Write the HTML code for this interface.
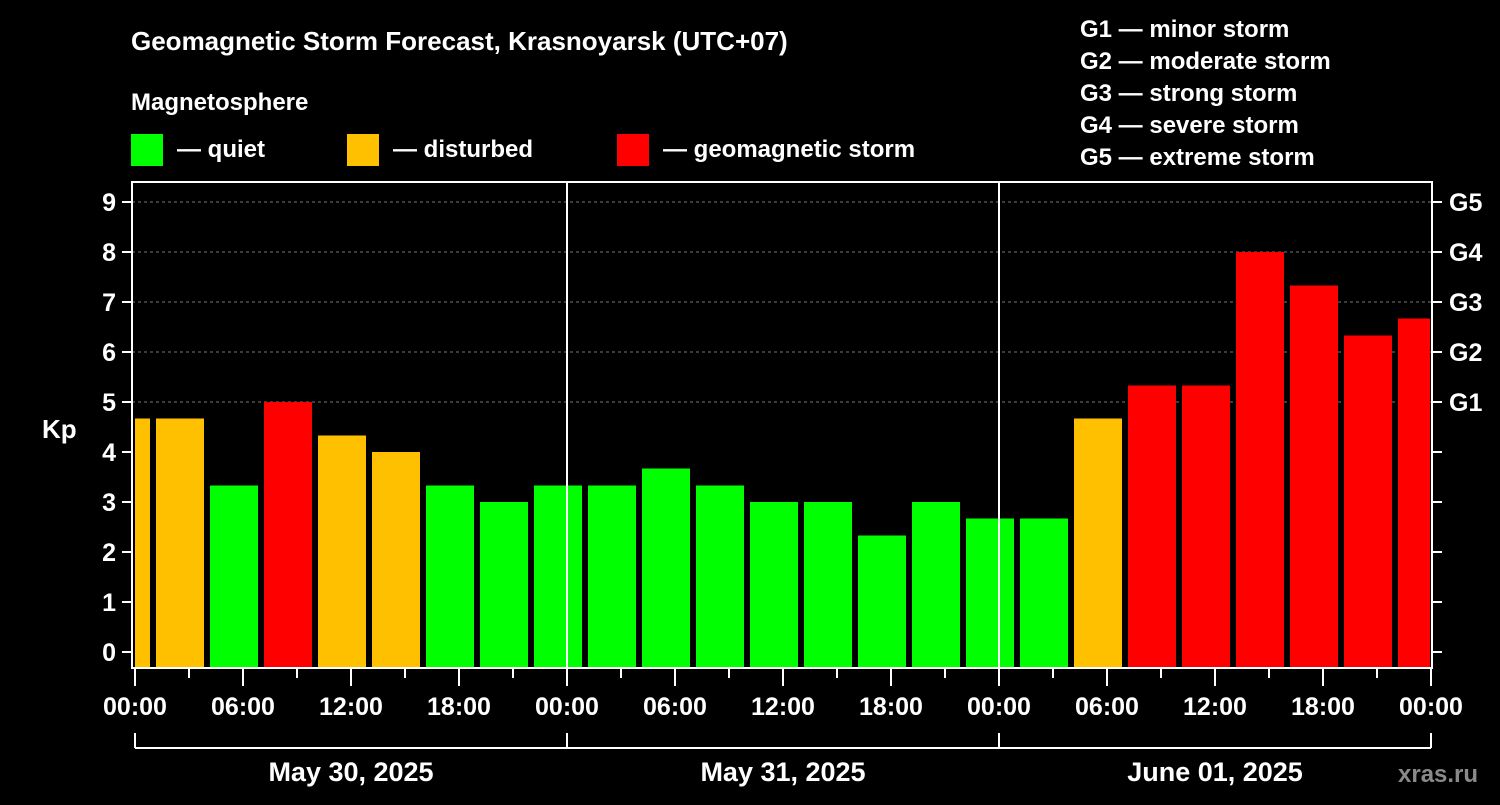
<!DOCTYPE html>
<html><head><meta charset="utf-8"><style>
body{margin:0;background:#000;width:1500px;height:800px;overflow:hidden}
svg text{font-family:"Liberation Sans",sans-serif;font-weight:bold;fill:#fff}
</style></head><body>
<svg id="c" width="1500" height="800">
<text x="131" y="50" font-size="26">Geomagnetic Storm Forecast, Krasnoyarsk (UTC+07)</text>
<text x="131" y="110" font-size="24">Magnetosphere</text>
<rect x="131" y="134" width="32" height="32" fill="#00ff00"/>
<text x="177" y="157" font-size="24">— quiet</text>
<rect x="347" y="134" width="32" height="32" fill="#ffc000"/>
<text x="393" y="157" font-size="24">— disturbed</text>
<rect x="617" y="134" width="32" height="32" fill="#ff0000"/>
<text x="663" y="157" font-size="24">— geomagnetic storm</text>
<g font-size="24">
<text x="1080" y="37">G1 — minor storm</text>
<text x="1080" y="69">G2 — moderate storm</text>
<text x="1080" y="101">G3 — strong storm</text>
<text x="1080" y="133">G4 — severe storm</text>
<text x="1080" y="165">G5 — extreme storm</text>
</g>
<text x="42" y="438" font-size="26">Kp</text>
<text x="1398" y="782" font-size="24" fill="#888" style="fill:#8a8a8a">xras.ru</text>
<g id="plot"></g>
</svg>
<script>
const kpValues=[4.67,4.67,3.33,5,4.33,4,3.33,3,3.33,3.33,3.67,3.33,3,3,2.33,3,2.67,2.67,4.67,5.33,5.33,8,7.33,6.33,6.67];
const barHours=[-0.5,2.5,5.5,8.5,11.5,14.5,17.5,20.5,23.5,26.5,29.5,32.5,35.5,38.5,41.5,44.5,47.5,50.5,53.5,56.5,59.5,62.5,65.5,68.5,71.5];
const yTicks=[0,1,2,3,4,5,6,7,8,9];
const gLabels=["G1","G2","G3","G4","G5"];
const xTickLabels=["00:00","06:00","12:00","18:00","00:00","06:00","12:00","18:00","00:00","06:00","12:00","18:00","00:00"];
const dayLabels=["May 30, 2025","May 31, 2025","June 01, 2025"];
const L=132,R=1432,T=182,B=668,X0=135,PXH=18;
const x=h=>X0+h*PXH, y=v=>652-v*50;
const NS="http://www.w3.org/2000/svg", g=document.getElementById('plot');
function mk(t,a,txt){const e=document.createElementNS(NS,t);for(const k in a)e.setAttribute(k,a[k]);if(txt!=null)e.textContent=txt;g.appendChild(e);return e;}
const cp=document.createElementNS(NS,'clipPath');cp.id='pc';const cr=document.createElementNS(NS,'rect');
cr.setAttribute('x',L+3);cr.setAttribute('y',T);cr.setAttribute('width',R-L-5);cr.setAttribute('height',B-T);cp.appendChild(cr);g.appendChild(cp);
for(let v=5;v<=9;v++){const e=mk('line',{x1:L,x2:R,y1:y(v),y2:y(v),stroke:'#777','stroke-dasharray':'3,3'});

}
kpValues.forEach((v,i)=>{const c=v>=5?'#ff0000':(v>=4?'#ffc000':'#00ff00');
const e=mk('rect',{x:x(barHours[i])-24,y:y(v),width:48,height:B-1-y(v),fill:c,'clip-path':'url(#pc)'});

});
[24,48].forEach(h=>{const e=mk('line',{x1:x(h),x2:x(h),y1:T,y2:B,stroke:'#fff','stroke-width':2});

});
const fr=mk('rect',{x:L,y:T,width:R-L,height:B-T,fill:'none',stroke:'#fff','stroke-width':2});


yTicks.forEach(v=>{mk('line',{x1:L-10,x2:L,y1:y(v),y2:y(v),stroke:'#fff','stroke-width':2});
mk('line',{x1:R,x2:R+10,y1:y(v),y2:y(v),stroke:'#fff','stroke-width':2});
const t=mk('text',{x:L-16,y:y(v)+9,'font-size':25,'text-anchor':'end'},String(v));


if(v>=5){const r=mk('text',{x:R+17,y:y(v)+9,'font-size':25},gLabels[v-5]);

}});
for(let h=0;h<=72;h+=3){mk('line',{x1:x(h),x2:x(h),y1:B,y2:B+(h%6==0?18:10),stroke:'#fff','stroke-width':2});}
xTickLabels.forEach((s,i)=>{const t=mk('text',{x:x(i*6),y:715,'font-size':25,'text-anchor':'middle'},s);

});
mk('line',{x1:x(0),x2:x(72),y1:748,y2:748,stroke:'#fff','stroke-width':2});
[0,24,48,72].forEach(h=>mk('line',{x1:x(h),x2:x(h),y1:733,y2:748,stroke:'#fff','stroke-width':2}));
dayLabels.forEach((s,i)=>{const t=mk('text',{x:x(i*24+12),y:781,'font-size':27,'text-anchor':'middle'},s);

});
</script>
</body></html>
